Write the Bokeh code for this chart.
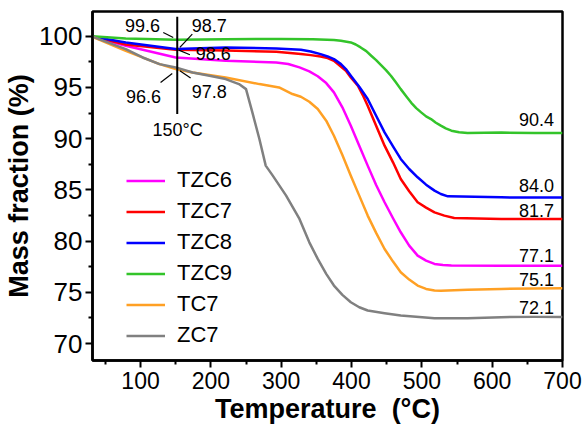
from bokeh.plotting import figure
from bokeh.models import Range1d, Legend, LegendItem, FixedTicker
from bokeh.core.properties import value
from bokeh.embed import file_html
from bokeh.resources import INLINE

FONT = "Liberation Sans"

# ---------------- data ----------------
t_tzc6 = [30, 79, 150, 221, 293, 310, 326, 340, 352, 364, 375, 387, 399, 411, 423, 435, 447, 459, 470, 482, 494, 506, 518, 530, 542, 613, 660, 700]
y_tzc6 = [100.0, 99.07, 97.93, 97.61, 97.45, 97.3, 96.96, 96.57, 96.1, 95.43, 94.52, 93.06, 91.27, 89.32, 87.37, 85.48, 83.79, 82.23, 80.86, 79.56, 78.58, 78.1, 77.77, 77.67, 77.61, 77.6, 77.6, 77.6]

t_tzc7 = [30, 79, 150, 221, 293, 328, 342, 356, 366, 375, 392, 399, 409, 416, 423, 435, 447, 459, 470, 482, 494, 506, 518, 532, 546, 613, 660, 700]
y_tzc7 = [100.0, 99.2, 98.68, 98.6, 98.5, 98.26, 98.16, 98.03, 97.87, 97.61, 96.63, 95.98, 95.17, 94.26, 93.22, 91.27, 89.32, 87.69, 86.06, 84.86, 83.79, 83.27, 82.81, 82.49, 82.26, 82.16, 82.15, 82.15]

t_tzc8 = [30, 79, 150, 221, 293, 328, 342, 356, 366, 375, 385, 392, 399, 411, 423, 435, 447, 459, 470, 482, 494, 506, 518, 527, 537, 613, 660, 700]
y_tzc8 = [100.0, 99.4, 98.75, 98.91, 98.8, 98.68, 98.52, 98.26, 98.03, 97.77, 97.28, 96.8, 96.15, 95.07, 93.87, 92.24, 90.62, 89.25, 88.02, 87.04, 86.23, 85.51, 84.93, 84.6, 84.37, 84.27, 84.25, 84.25]

t_tzc9 = [30, 79, 150, 221, 300, 345, 375, 385, 399, 406, 413, 421, 428, 435, 442, 449, 456, 463, 470, 478, 485, 492, 499, 506, 513, 520, 527, 534, 542, 553, 565, 613, 660, 700]
y_tzc9 = [100.0, 99.79, 99.66, 99.72, 99.74, 99.72, 99.63, 99.56, 99.4, 99.2, 98.91, 98.55, 98.1, 97.67, 97.19, 96.7, 96.15, 95.5, 94.84, 94.13, 93.5, 92.99, 92.57, 92.18, 91.92, 91.56, 91.27, 91.0, 90.78, 90.62, 90.55, 90.6, 90.55, 90.55]

t_tc7 = [30, 79, 127, 150, 174, 221, 269, 297, 316, 328, 340, 352, 364, 375, 387, 399, 411, 423, 435, 447, 459, 470, 482, 494, 506, 518, 527, 565, 613, 660, 700]
y_tc7 = [100.0, 98.58, 97.28, 96.8, 96.47, 95.98, 95.33, 95.0, 94.36, 94.1, 93.61, 92.9, 91.76, 90.29, 88.4, 86.39, 84.44, 82.49, 80.8, 79.23, 78.0, 76.96, 76.24, 75.66, 75.33, 75.17, 75.14, 75.24, 75.33, 75.38, 75.4]

t_zc7 = [30, 79, 103, 127, 150, 174, 198, 221, 240, 250, 259, 269, 278, 288, 307, 326, 340, 352, 364, 375, 387, 399, 411, 423, 447, 470, 518, 565, 613, 660, 700]
y_zc7 = [100.0, 98.75, 97.93, 97.28, 96.96, 96.47, 96.15, 95.82, 95.33, 94.84, 92.57, 89.97, 87.37, 86.39, 84.44, 82.16, 79.88, 78.26, 76.8, 75.66, 74.75, 74.03, 73.54, 73.22, 72.96, 72.73, 72.47, 72.47, 72.57, 72.6, 72.6]

series_names = ["TZC6", "TZC7", "TZC8", "TZC9", "TC7", "ZC7"]
series_t = [t_tzc6, t_tzc7, t_tzc8, t_tzc9, t_tc7, t_zc7]
series_y = [y_tzc6, y_tzc7, y_tzc8, y_tzc9, y_tc7, y_zc7]
colors = ["#FF00FF", "#FF0000", "#0000FF", "#33C42A", "#FFA024", "#808080"]

# final-value labels
end_labels = ["90.4", "84.0", "81.7", "77.1", "75.1", "72.1"]
end_label_x = [688, 688, 688, 688, 688, 688]
end_label_y = [91.92, 85.41, 82.98, 78.59, 76.25, 73.52]

# 150 °C annotations
ann_text = ["99.6", "98.7", "98.6", "96.6", "97.8", "150°C"]
ann_x = [102.8, 197.6, 203.3, 104.3, 197.6, 152.6]
ann_y = [101.02, 101.02, 98.3, 94.15, 94.63, 90.8]
lead_x0 = [132.3, 155.9, 154.5, 128.5, 155.9]
lead_y0 = [100.37, 98.91, 98.65, 95.49, 96.63]
lead_x1 = [146.5, 173.6, 170.2, 145.1, 171.2]
lead_y1 = [99.88, 100.21, 98.2, 96.37, 95.92]
vline_x = 152.2
vline_y = [101.9, 92.41]

x_ticks = [100, 200, 300, 400, 500, 600, 700]
x_minor = [50, 150, 250, 350, 450, 550, 650]
y_ticks = [70, 75, 80, 85, 90, 95, 100]
y_minor = [72.5, 77.5, 82.5, 87.5, 92.5, 97.5, 102.5]

# ---------------- figure ----------------
p = figure(width=584, height=430, output_backend="svg", toolbar_location=None,
           x_range=Range1d(31.7, 700), y_range=Range1d(68.34, 102.42),
           min_border_left=92, min_border_right=22, min_border_top=11, min_border_bottom=70)
p.background_fill_color = "white"
p.border_fill_color = "white"
p.xgrid.visible = False
p.ygrid.visible = False
p.outline_line_color = "black"
p.outline_line_width = 2.5
p.outline_line_alpha = 1.0

renderers = []
for name, t, y, c in zip(series_names, series_t, series_y, colors):
    r = p.line(t, y, line_color=c, line_width=2.5, line_join="round")
    renderers.append((name, r))

# legend
legend = Legend(items=[LegendItem(label=n, renderers=[r]) for n, r in renderers],
                location=(34, 12), orientation="vertical",
                background_fill_alpha=0, border_line_alpha=0,
                padding=0, margin=0, spacing=5,
                glyph_width=39, glyph_height=25, label_height=25, label_standoff=12,
                label_text_font=FONT, label_text_font_size="22px", label_text_color="black")
p.add_layout(legend, "center")

# end labels
p.text(x=end_label_x, y=end_label_y, text=end_labels, text_font=value(FONT),
       text_font_size="18px", text_align="right", text_baseline="middle", text_color="black")

# 150 C annotation
p.line([vline_x, vline_x], vline_y, line_color="black", line_width=2)
p.segment(x0=lead_x0, y0=lead_y0, x1=lead_x1, y1=lead_y1, line_color="black", line_width=1.2)
p.text(x=ann_x, y=ann_y, text=ann_text, text_font=value(FONT),
       text_font_size="18px", text_align="center", text_baseline="middle", text_color="black")

# axes
for ax in (p.xaxis[0], p.yaxis[0]):
    ax.axis_line_width = 2.5
    ax.axis_line_color = "black"
    ax.major_tick_line_width = 2
    ax.minor_tick_line_width = 2
    ax.major_tick_out = 7
    ax.major_tick_in = 0
    ax.minor_tick_out = 4
    ax.minor_tick_in = 0
    ax.major_label_text_font = FONT
    ax.major_label_text_color = "black"
    ax.axis_label_text_font = FONT
    ax.axis_label_text_font_style = "bold"
    ax.axis_label_text_color = "black"

p.xaxis.ticker = FixedTicker(ticks=x_ticks, minor_ticks=x_minor)
p.yaxis.ticker = FixedTicker(ticks=y_ticks, minor_ticks=y_minor)
p.xaxis.major_label_text_font_size = "23px"
p.yaxis.major_label_text_font_size = "26px"
p.xaxis.major_label_standoff = 4
p.yaxis.major_label_standoff = 3
p.xaxis.axis_label = "Temperature\u00a0\u00a0(°C)"
p.yaxis.axis_label = "Mass fraction (%)"
p.xaxis.axis_label_text_font_size = "27px"
p.yaxis.axis_label_text_font_size = "27px"
p.xaxis.axis_label_standoff = 2
p.yaxis.axis_label_standoff = 2

open("out.html", "w").write(file_html(p, INLINE))
